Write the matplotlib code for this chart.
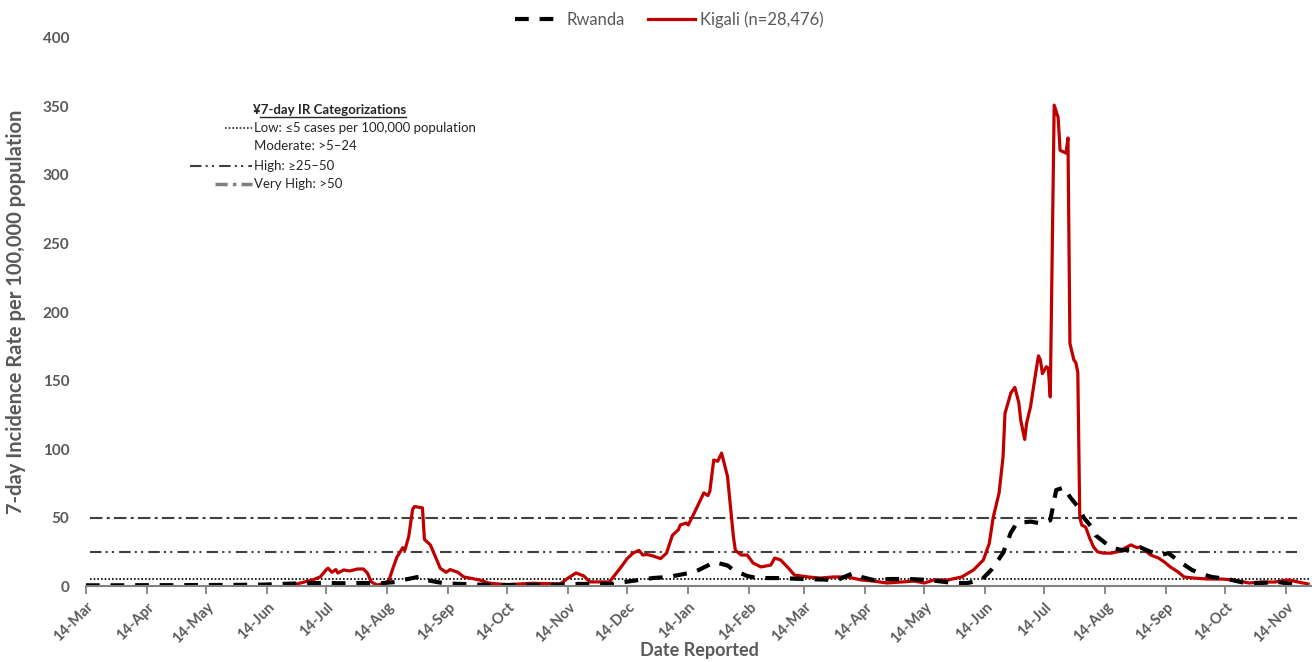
import matplotlib.pyplot as plt
import matplotlib.dates as mdates
from matplotlib.lines import Line2D
import pandas as pd

plt.rcParams['font.family'] = ['Lato', 'DejaVu Sans']

# days since 14-Mar-2020, 7-day incidence per 100,000
start = pd.Timestamp('2020-03-14')

kigali_days = [105, 115, 119, 122, 123, 125, 127, 128, 131, 134, 138, 141, 143, 145, 148,
               152, 154, 156, 158, 161, 162, 164, 166, 167, 171, 172, 175, 178, 180, 183,
               185, 189, 192, 195, 200, 205, 214, 227, 241, 245, 249, 253, 256, 261, 266,
               268, 272, 275, 278, 281, 283, 285, 288, 292, 295, 298, 301, 302, 305, 306,
               309, 311, 314, 316, 317, 319, 321, 323, 326, 329, 330, 333, 336, 339, 343,
               348, 350, 353, 357, 360, 367, 373, 380, 387, 394, 400, 407, 414, 421, 426,
               431, 438, 445, 451, 456, 459, 461, 464, 466, 467, 470, 472, 474, 475, 477,
               478, 480, 482, 484, 485, 486, 488, 489, 490, 492, 494, 495, 498, 499, 500,
               502, 503, 504, 505, 506, 508, 510, 512, 514, 517, 521, 524, 527, 531, 534,
               536, 539, 541, 545, 548, 551, 555, 558, 563, 570, 577, 583, 591, 597, 604,
               611, 616, 621]
kigali_ir = [0.7, 4.4, 6.6, 11.7, 13, 10, 12, 9.5, 11.7, 11, 12.4, 12.4, 9.5, 3, 0.7,
             2, 4.4, 13, 21, 28, 26, 36, 56, 58, 57, 34, 30, 20, 13, 10,
             12, 10, 6.6, 5.8, 4.4, 2, 1, 2, 1.5, 5.8, 9.5, 7.3, 3, 3, 3,
             6.6, 14, 20, 24, 26, 22.6, 23, 22, 20, 24, 37, 41, 44.5, 46, 44.5,
             53, 59, 68, 66, 69, 92, 91, 97, 80, 36, 26, 22.6, 22.6, 16.8, 13.9,
             15.3, 20.4, 19, 13, 8, 6.6, 5.8, 6.6, 6.6, 4.4, 3.6, 2.2, 2.9, 3.6, 2.2,
             4.4, 4.4, 6.6, 11.7, 19, 31, 50, 68, 94, 126, 141, 145, 134, 121, 107,
             119, 131, 150, 168, 165, 155, 160, 159, 138, 351, 342, 318, 316, 327, 177,
             165, 163, 156, 50, 44.5, 43, 35, 28.5, 25, 24, 24, 25, 27, 30, 28,
             28.5, 25, 22.6, 20.4, 17.5, 13.9, 10.2, 6.6, 5.8, 5.1, 5.1, 4.4, 2.2, 2.9, 2.9,
             4.4, 2.9, 1.5]

rwanda_days = [0, 15, 30, 45, 60, 75, 90, 100, 110, 120, 130, 140, 150, 158, 161,
               165, 170, 173, 178, 182, 190, 199, 211, 231, 241, 251, 267, 277, 288, 296,
               304, 309, 316, 319, 326, 329, 336, 341, 351, 365, 382, 386, 390, 394, 400,
               409, 418, 428, 441, 448, 455, 460, 466, 470, 473, 480, 484, 490, 493, 497,
               500, 504, 507, 511, 513, 521, 527, 536, 541, 546, 550, 556, 562, 567, 572,
               580, 589, 597, 606, 612, 618]
rwanda_ir = [0.5, 0.5, 0.6, 0.6, 0.7, 0.8, 1.0, 1.5, 2.0, 2.2, 2.0, 2.2, 2.0, 3, 4.4,
             5.5, 7, 4.4, 3, 2, 1.5, 1, 0.7, 0.8, 1, 1.5, 1.5, 3.6, 5.8, 6.6,
             8.8, 10, 15, 17.5, 15, 11.7, 7.3, 5.8, 5.8, 5.1, 4.4, 7, 9.5, 6.6, 4.4,
             5.1, 5.1, 4.4, 2.2, 2.2, 4.4, 11.7, 24, 39, 46, 47, 46, 48, 70, 72,
             65, 58, 50, 43, 37, 28, 26, 28, 25, 22.6, 24, 17.5, 11.7, 8.8, 6.6,
             5.1, 2.2, 2.2, 2.9, 1.5, 1.5]

thresholds = [5, 25, 50]

kigali_dates = start + pd.to_timedelta(kigali_days, unit='D')
rwanda_dates = start + pd.to_timedelta(rwanda_days, unit='D')

grey = '#595959'
fig = plt.figure(figsize=(13.12, 6.62), dpi=100)
ax = fig.add_axes([0.0655, 0.1148, 0.9345, 0.8278])

# category lines
ax.axhline(thresholds[0], xmin=0.003, xmax=0.998, color='black', lw=1.2,
           linestyle=(0, (1, 1.2)))
ax.axhline(thresholds[1], xmin=0.003, xmax=0.988, color='#404040', lw=1.5,
           linestyle=(0, (5.5, 2, 1, 2, 1, 2.5)))
ax.axhline(thresholds[2], xmin=0.003, xmax=0.988, color='#404040', lw=1.5,
           linestyle=(0, (6, 2, 1.5, 2)))

ax.plot(kigali_dates, kigali_ir, color='#C00000', lw=2.3, label='Kigali (n=28,476)')
ax.plot(rwanda_dates, rwanda_ir, color='black', lw=3, linestyle=(0, (3.3, 2.6)),
        label='Rwanda')

ax.set_xlim(start, start + pd.Timedelta(days=623))
ax.set_ylim(0, 400)
ax.set_yticks(range(0, 401, 50))

ax.xaxis.set_major_locator(mdates.MonthLocator(bymonthday=14))
ax.xaxis.set_major_formatter(mdates.DateFormatter('%d-%b'))
for lab in ax.get_xticklabels():
    lab.set_rotation(45)
    lab.set_ha('right')
    lab.set_rotation_mode('anchor')

ax.tick_params(axis='x', direction='out', length=6, width=1.3, color='#808080',
               labelsize=10.5, labelcolor=grey, pad=4)
ax.tick_params(axis='y', length=0, labelsize=11, labelcolor=grey, pad=12)
for lab in ax.get_xticklabels() + ax.get_yticklabels():
    lab.set_fontweight('bold')

for s in ['left', 'top', 'right']:
    ax.spines[s].set_visible(False)
ax.spines['bottom'].set_color('#808080')
ax.spines['bottom'].set_linewidth(1.5)

ax.set_xlabel('Date Reported', fontsize=13, fontweight='bold', color=grey, labelpad=-3)
ax.set_ylabel('7-day Incidence Rate per 100,000 population', fontsize=14.5,
              fontweight='bold', color=grey, labelpad=12)

h, l = ax.get_legend_handles_labels()
fig.legend(h[::-1], l[::-1], loc='upper center', bbox_to_anchor=(0.51, 1.005), ncol=2,
           frameon=False, fontsize=12, labelcolor=grey, handlelength=2.8,
           columnspacing=1.4, handletextpad=0.3)

# categorization key
dark = '#262626'
title = fig.text(0.1925, 0.834, '\u00a57-day IR Categorizations', fontsize=9.5,
                 fontweight='bold', color=dark, va='center')
fig.text(0.1936, 0.8066, 'Low: \u22645 cases per 100,000 population', fontsize=9.5,
         color=dark, va='center')
fig.text(0.1936, 0.7795, 'Moderate: >5\u201324', fontsize=9.5, color=dark, va='center')
fig.text(0.1936, 0.7492, 'High: \u226525\u201350', fontsize=9.5, color=dark, va='center')
fig.text(0.1936, 0.722, 'Very High: >50', fontsize=9.5, color=dark, va='center')
fig.add_artist(Line2D([0.1715, 0.192], [0.8066, 0.8066], color=dark, lw=1.2,
                      linestyle=(0, (1, 1.2))))
fig.add_artist(Line2D([0.1448, 0.192], [0.7492, 0.7492], color='#404040', lw=1.5,
                      linestyle=(0, (5.5, 2, 1, 2, 1, 2.5))))
fig.add_artist(Line2D([0.1639, 0.192], [0.722, 0.722], color='#7F7F7F', lw=2.5,
                      linestyle=(0, (3.5, 1.5, 1, 1.5))))

fig.canvas.draw()
bb = title.get_window_extent().transformed(fig.transFigure.inverted())
fig.add_artist(Line2D([bb.x0 + 0.006, bb.x1], [bb.y0 - 0.002, bb.y0 - 0.002],
                      color=dark, lw=1))

fig.savefig('out.png', dpi=100)
